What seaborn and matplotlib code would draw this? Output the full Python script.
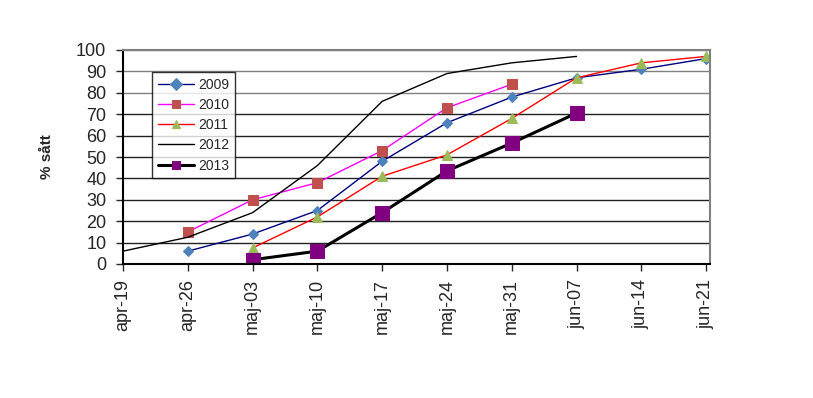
import numpy as np
import pandas as pd
import matplotlib
matplotlib.use("Agg")
import matplotlib.pyplot as plt
import seaborn as sns

dates = ["apr-19", "apr-26", "maj-03", "maj-10", "maj-17", "maj-24", "maj-31", "jun-07", "jun-14", "jun-21"]
nan = np.nan
s2009 = [nan, 6, 14, 25, 48, 66, 78, 87, 91, 96]
s2010 = [nan, 15, 30, 38, 53, 73, 84, nan, nan, nan]
s2011 = [nan, nan, 7.5, 22, 41, 51, 68, 87, 94, 97]
s2012 = [6, 12.5, 24, 46, 76, 89, 94, 97, nan, nan]
s2013 = [nan, nan, 2, 6, 24, 43.5, 56.5, 70.5, nan, nan]

sns.set_theme(style="white")
plt.rcParams['font.family'] = ['Liberation Sans', 'DejaVu Sans']

fig = plt.figure(figsize=(8.13, 3.98), dpi=100)
ax = fig.add_axes([123/813, 1-264/398, (710-123)/813, (264-50)/398])

xpos = np.arange(len(dates))
for v in range(10, 101, 10):
    ax.axhline(v, color="#808080" if v >= 80 else "#222222", lw=1.0, zorder=0)

series = [
    ("2009", s2009, dict(color="#000080", lw=1.0, marker="D", ms=5.5, mfc="#4F81BD", mec="#4F81BD")),
    ("2010", s2010, dict(color="#FF00FF", lw=1.0, marker="s", ms=7, mfc="#C0504D", mec="#C0504D")),
    ("2011", s2011, dict(color="#FF0000", lw=1.0, marker="^", ms=7.5, mfc="#9BBB59", mec="#9BBB59")),
    ("2012", s2012, dict(color="#000000", lw=1.0, marker=None)),
    ("2013", s2013, dict(color="#000000", lw=2.2, marker="s", ms=9.5, mfc="#800080", mec="#800080")),
]
for name, vals, kw in series:
    df = pd.DataFrame({"x": xpos, "y": vals}).dropna()
    sns.lineplot(data=df, x="x", y="y", ax=ax, label=name, sort=False, **kw)

ax.set_xlim(0, 9.06)
ax.set_ylim(0, 100)
ax.set_yticks(range(0, 101, 10))
ax.set_xticks(xpos)
ax.set_xticklabels(dates, rotation=90, fontsize=13)
ax.tick_params(axis="y", labelsize=13, length=5, width=1, direction="out", left=True, pad=7)
ax.tick_params(axis="x", length=5, width=1, direction="out", bottom=True, pad=6)
ax.set_xlabel("")
ax.set_ylabel("% sått", fontsize=11, fontweight="bold", labelpad=16)

for s in ["left", "bottom"]:
    ax.spines[s].set_color("black")
    ax.spines[s].set_linewidth(1.5)
for s in ["top", "right"]:
    ax.spines[s].set_color("#808080")
    ax.spines[s].set_linewidth(1.5)

leg = ax.legend(loc="upper left", bbox_to_anchor=((152-123)/587, (264-72)/214),
                fontsize=10, frameon=True, fancybox=False, edgecolor="black",
                borderpad=0.4, labelspacing=0.45, handlelength=2.6, handletextpad=0.3,
                borderaxespad=0)
leg.get_frame().set_linewidth(1.0)
for h in leg.legend_handles:
    try:
        h.set_markersize(6)
    except Exception:
        pass

fig.savefig("out.png", dpi=100)
